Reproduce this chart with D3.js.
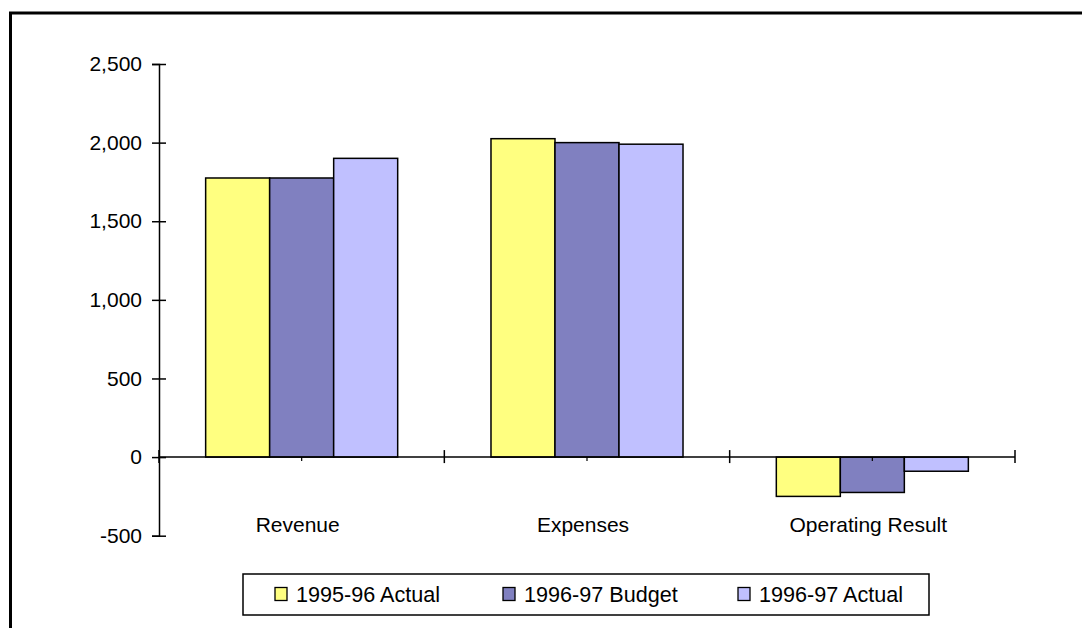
<!DOCTYPE html>
<html>
<head>
<meta charset="utf-8">
<script src="https://cdn.jsdelivr.net/npm/d3@7/dist/d3.min.js"></script>
<style>
  html, body { margin: 0; padding: 0; background: #fff; }
  svg { display: block; }
  text { font-family: "Liberation Sans", Arial, sans-serif; fill: #000; }
</style>
</head>
<body>
<svg id="chart" width="1082" height="628"></svg>
<script>
// Financial summary, $ millions
const categories = ["Revenue", "Expenses", "Operating Result"];
const seriesNames = ["1995-96 Actual", "1996-97 Budget", "1996-97 Actual"];
const actual9596 = [1775, 2025, -250];
const budget9697 = [1775, 2000, -225];
const actual9697 = [1900, 1990, -90];
const yTicks = [-500, 0, 500, 1000, 1500, 2000, 2500];
const seriesColors = ["#FFFF80", "#8080C0", "#C0C0FF"];

const seriesValues = [actual9596, budget9697, actual9697];

const svg = d3.select("#chart");

// outer frame (runs off the right and bottom edges)
svg.append("rect")
  .attr("x", 10.5).attr("y", 13)
  .attr("width", 1200).attr("height", 800)
  .attr("fill", "none").attr("stroke", "#000").attr("stroke-width", 3);

const plotLeft = 159, plotRight = 1015;
const y = d3.scaleLinear().domain([-500, 2500]).range([535.7, 64]);
const x0 = d3.scaleBand().domain(categories).range([plotLeft, plotRight]).padding(0);
const bw = x0.bandwidth();
const groupGap = bw * 0.327;
const x1 = d3.scaleBand().domain(seriesNames).range([groupGap / 2, bw - groupGap / 2]).padding(0);

// bars
const g = svg.append("g");
seriesNames.forEach((name, si) => {
  g.selectAll(null)
    .data(categories.map((c, ci) => ({ c, v: seriesValues[si][ci] })))
    .enter().append("rect")
    .attr("x", d => x0(d.c) + x1(name))
    .attr("y", d => y(Math.max(0, d.v)))
    .attr("width", x1.bandwidth())
    .attr("height", d => Math.abs(y(d.v) - y(0)))
    .attr("fill", seriesColors[si])
    .attr("stroke", "#000")
    .attr("stroke-width", 1.5);
});

// y axis, thousands separator with a plain hyphen for negatives
const fmt = d3.format(",");
const yAxis = d3.axisLeft(y).tickValues(yTicks)
  .tickFormat(d => fmt(d).replace("\u2212", "-")).tickSize(7).tickPadding(10);
const ya = svg.append("g").attr("transform", `translate(${plotLeft},0)`).call(yAxis);
ya.select(".domain").attr("stroke", "#000").attr("stroke-width", 1.5);
ya.selectAll(".tick line").attr("stroke", "#000").attr("stroke-width", 1.5)
  .attr("x1", 7).attr("x2", -7);
ya.selectAll(".tick text").attr("font-size", 21)
  .attr("font-family", "Liberation Sans, Arial, sans-serif").attr("fill", "#000")
  .attr("x", -17);

// x axis at zero
const xa = svg.append("g");
xa.append("line")
  .attr("x1", plotLeft).attr("x2", plotRight)
  .attr("y1", y(0)).attr("y2", y(0))
  .attr("stroke", "#000").attr("stroke-width", 1.5);
const boundaries = categories.map(c => x0(c)).concat([plotRight]);
xa.selectAll(".cat-tick").data(boundaries).enter().append("line")
  .attr("x1", d => d).attr("x2", d => d)
  .attr("y1", y(0) - 7).attr("y2", y(0) + 6)
  .attr("stroke", "#000").attr("stroke-width", 1.5);
xa.selectAll(".mid-tick").data(categories).enter().append("line")
  .attr("x1", d => x0(d) + bw / 2).attr("x2", d => x0(d) + bw / 2)
  .attr("y1", y(0)).attr("y2", y(0) + 4)
  .attr("stroke", "#000").attr("stroke-width", 1.2);
xa.selectAll(".cat-label").data(categories).enter().append("text")
  .attr("x", d => x0(d) + bw / 2 - 4)
  .attr("y", 532)
  .attr("text-anchor", "middle")
  .attr("font-size", 21)
  .text(d => d);

// legend
const legend = svg.append("g");
legend.append("rect")
  .attr("x", 243).attr("y", 574).attr("width", 686).attr("height", 41)
  .attr("fill", "#fff").attr("stroke", "#000").attr("stroke-width", 1.5);
const legendX = [275, 503, 738];
seriesNames.forEach((name, i) => {
  legend.append("rect")
    .attr("x", legendX[i]).attr("y", 587.5).attr("width", 12).attr("height", 13)
    .attr("fill", seriesColors[i]).attr("stroke", "#000").attr("stroke-width", 1.3);
  legend.append("text")
    .attr("x", legendX[i] + 21).attr("y", 602)
    .attr("font-size", 21.6)
    .text(name);
});
</script>
</body>
</html>
